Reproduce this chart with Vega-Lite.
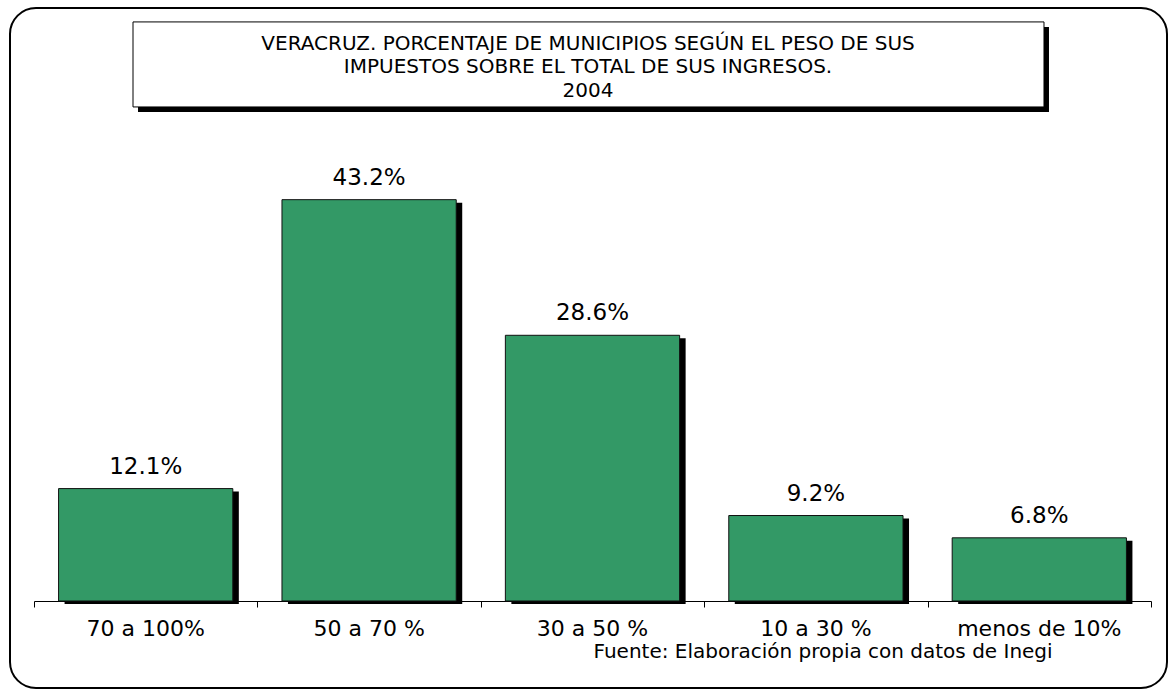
{
  "$schema": "https://vega.github.io/schema/vega-lite/v6.json",
  "width": 1157,
  "height": 680,
  "autosize": {"type": "none"},
  "padding": {"left": 10, "top": 8, "right": 2, "bottom": 2},
  "background": "white",
  "config": {
    "view": {"stroke": "black", "strokeWidth": 2, "cornerRadius": 26, "fill": "white"},
    "font": "DejaVu Sans"
  },
  "resolve": {"scale": {"x": "independent"}, "axis": {"x": "independent"}},
  "layer": [
    {
      "data": {"values": [{"marco": "sombra"}]},
      "mark": {"type": "rect", "color": "black", "xOffset": 5, "x2Offset": 5, "yOffset": 5, "y2Offset": 5},
      "encoding": {
        "x": {"datum": 0.4432, "type": "quantitative", "scale": {"domain": [0, 5], "range": [24, 1141]}, "axis": null},
        "x2": {"datum": 4.521},
        "y": {"datum": 62.33, "type": "quantitative", "scale": {"domain": [-9.365, 63.83], "nice": false, "zero": false}, "axis": null},
        "y2": {"datum": 53.18}
      }
    },
    {
      "data": {"values": [{"marco": "caja"}]},
      "mark": {"type": "rect", "fill": "white", "stroke": "black", "strokeWidth": 1},
      "encoding": {
        "x": {"datum": 0.4432, "type": "quantitative", "scale": {"domain": [0, 5], "range": [24, 1141]}, "axis": null},
        "x2": {"datum": 4.521},
        "y": {"datum": 62.33, "type": "quantitative", "scale": {"domain": [-9.365, 63.83], "nice": false, "zero": false}, "axis": null},
        "y2": {"datum": 53.18}
      }
    },
    {
      "data": {"values": [{"marco": "titulo"}]},
      "mark": {
        "type": "text",
        "text": ["VERACRUZ. PORCENTAJE DE MUNICIPIOS SEGÚN EL PESO DE SUS", "IMPUESTOS SOBRE EL TOTAL DE SUS INGRESOS.", "2004"],
        "fontSize": 20,
        "lineHeight": 23.5,
        "align": "center",
        "baseline": "middle",
        "color": "black"
      },
      "encoding": {
        "x": {"datum": 2.48, "type": "quantitative", "scale": {"domain": [0, 5], "range": [24, 1141]}, "axis": null},
        "y": {"datum": 60.0, "type": "quantitative", "scale": {"domain": [-9.365, 63.83], "nice": false, "zero": false}, "axis": null}
      }
    },
    {
      "data": {"values": [{"marco": "fuente"}]},
      "mark": {
        "type": "text",
        "text": "Fuente: Elaboración propia con datos de Inegi",
        "fontSize": 20,
        "align": "center",
        "baseline": "middle",
        "color": "black"
      },
      "encoding": {
        "x": {"datum": 3.532, "type": "quantitative", "scale": {"domain": [0, 5], "range": [24, 1141]}, "axis": null},
        "y": {"datum": -5.5, "type": "quantitative", "scale": {"domain": [-9.365, 63.83], "nice": false, "zero": false}, "axis": null}
      }
    },
    {
      "data": {"values": [{"marco": "eje"}]},
      "mark": {"type": "rect", "opacity": 0},
      "encoding": {
        "x": {
          "datum": 0, "type": "quantitative",
          "scale": {"domain": [0, 5], "range": [24, 1141]},
          "axis": {
            "orient": "bottom",
            "offset": -87,
            "values": [0, 1, 2, 3, 4, 5],
            "labels": false,
            "title": null,
            "grid": false,
            "tickSize": 6,
            "tickColor": "black",
            "domainColor": "black",
            "domainWidth": 1
          }
        },
        "x2": {"datum": 0},
        "y": {"datum": 0, "type": "quantitative", "scale": {"domain": [-9.365, 63.83], "nice": false, "zero": false}, "axis": null}
      }
    },
    {
      "data": {
        "values": [
          {"rango": "70 a 100%", "pct": 12.1, "etiqueta": "12.1%"},
          {"rango": "50 a 70 %", "pct": 43.2, "etiqueta": "43.2%"},
          {"rango": "30 a 50 %", "pct": 28.6, "etiqueta": "28.6%"},
          {"rango": "10 a 30 %", "pct": 9.2, "etiqueta": "9.2%"},
          {"rango": "menos de 10%", "pct": 6.8, "etiqueta": "6.8%"}
        ]
      },
      "encoding": {
        "x": {
          "field": "rango", "type": "nominal", "sort": null,
          "scale": {"range": [24, 1141], "paddingInner": 0.22, "paddingOuter": 0.11},
          "axis": {
            "title": null,
            "orient": "bottom",
            "offset": -87,
            "labelAngle": 0,
            "ticks": false,
            "tickSize": 0,
            "domain": false,
            "labelFont": "DejaVu Sans",
            "labelFontSize": 22,
            "labelColor": "black",
            "labelPadding": 17,
            "grid": false
          }
        },
        "y": {"field": "pct", "type": "quantitative", "scale": {"domain": [-9.365, 63.83], "nice": false, "zero": false}, "axis": null}
      },
      "layer": [
        {"mark": {"type": "bar", "color": "black", "xOffset": 6, "yOffset": 3}},
        {"mark": {"type": "bar", "fill": "#339966", "stroke": "#111111", "strokeWidth": 1}},
        {
          "mark": {"type": "text", "fontSize": 23, "baseline": "bottom", "dy": -10, "color": "black"},
          "encoding": {"text": {"field": "etiqueta", "type": "nominal"}}
        }
      ]
    }
  ]
}
